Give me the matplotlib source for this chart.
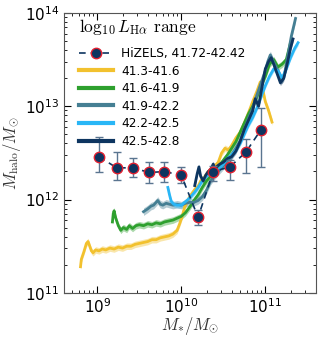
import numpy as np
import matplotlib
matplotlib.use("Agg")
import matplotlib.pyplot as plt

plt.rcParams["mathtext.fontset"] = "cm"

# ---------------- data (log10 values) ----------------
hizels_logm = [9.02, 9.23, 9.42, 9.62, 9.80, 10.00, 10.20, 10.38, 10.58, 10.77, 10.95]
hizels_logh = [12.46, 12.34, 12.34, 12.29, 12.30, 12.26, 11.81, 12.30, 12.35, 12.51, 12.75]
hizels_hi   = [12.67, 12.51, 12.45, 12.40, 12.40, 12.35, 11.89, 12.36, 12.42, 12.65, 12.98]
hizels_lo   = [12.30, 12.21, 12.24, 12.18, 12.19, 12.18, 11.73, 12.20, 12.21, 12.28, 12.35]

y1_x = [8.80, 8.81, 8.84, 8.87, 8.89, 8.91, 8.93, 8.95, 8.98, 9.02, 9.06, 9.10, 9.15, 9.20,
        9.25, 9.30, 9.35, 9.40, 9.45, 9.50, 9.55, 9.60, 9.65, 9.70, 9.75, 9.80, 9.85, 9.90,
        9.95, 9.98, 10.01, 10.04, 10.07, 10.10, 10.13, 10.17, 10.20, 10.23, 10.26, 10.29,
        10.32, 10.36, 10.40, 10.44, 10.48, 10.52, 10.56, 10.60, 10.65, 10.70, 10.75, 10.80,
        10.85, 10.90, 10.94, 10.97, 11.00, 11.04, 11.08]
y1_y = [11.28, 11.36, 11.44, 11.53, 11.55, 11.50, 11.45, 11.43, 11.46, 11.45, 11.47, 11.46,
        11.48, 11.47, 11.49, 11.48, 11.50, 11.50, 11.52, 11.53, 11.54, 11.55, 11.57, 11.57,
        11.59, 11.60, 11.61, 11.63, 11.67, 11.74, 11.82, 11.92, 11.98, 12.03, 12.07, 12.12,
        12.14, 12.20, 12.22, 12.26, 12.30, 12.31, 12.36, 12.40, 12.50, 12.55, 12.53, 12.58,
        12.66, 12.72, 12.82, 12.93, 13.05, 13.16, 13.26, 13.18, 13.05, 12.95, 12.83]

g_x = [9.18, 9.19, 9.20, 9.22, 9.25, 9.28, 9.31, 9.35, 9.38, 9.42, 9.46, 9.50, 9.55, 9.60,
       9.65, 9.70, 9.75, 9.80, 9.85, 9.90, 9.95, 10.00, 10.05, 10.10, 10.15, 10.20, 10.25,
       10.30, 10.35, 10.40, 10.45, 10.50, 10.55, 10.60, 10.65, 10.70, 10.75, 10.80, 10.85,
       10.90, 10.95, 11.00, 11.05, 11.10, 11.15, 11.20, 11.25, 11.30]
g_y = [11.76, 11.85, 11.88, 11.80, 11.72, 11.67, 11.70, 11.68, 11.72, 11.69, 11.72, 11.73,
       11.72, 11.74, 11.73, 11.75, 11.74, 11.76, 11.77, 11.78, 11.80, 11.82, 11.86, 11.92,
       11.99, 12.05, 12.13, 12.20, 12.25, 12.31, 12.36, 12.42, 12.48, 12.55, 12.62, 12.72,
       12.82, 12.92, 13.00, 13.10, 13.22, 13.32, 13.45, 13.50, 13.42, 13.45, 13.50, 13.68]

t_x = [9.55, 9.60, 9.64, 9.67, 9.70, 9.72, 9.75, 9.78, 9.82, 9.86, 9.90, 9.95, 10.00, 10.05,
       10.10, 10.15, 10.20, 10.25, 10.30, 10.35, 10.40, 10.45, 10.50, 10.55, 10.60, 10.65,
       10.70, 10.75, 10.80, 10.85, 10.90, 10.95, 11.00, 11.03, 11.06, 11.10, 11.15, 11.20,
       11.23, 11.27, 11.31, 11.36]
t_y = [11.87, 11.90, 11.93, 11.94, 11.97, 11.99, 11.95, 11.94, 11.96, 11.95, 11.94, 11.95,
       11.94, 11.96, 11.97, 11.97, 11.99, 12.03, 12.10, 12.20, 12.26, 12.31, 12.36, 12.42,
       12.48, 12.55, 12.63, 12.75, 12.87, 12.98, 13.12, 13.25, 13.38, 13.48, 13.55, 13.47,
       13.38, 13.28, 13.35, 13.55, 13.75, 13.94]

b_x = [9.84, 9.86, 9.88, 9.91, 9.95, 10.00, 10.04, 10.08, 10.12, 10.16, 10.20, 10.25, 10.30,
       10.35, 10.40, 10.45, 10.50, 10.55, 10.60, 10.65, 10.70, 10.75, 10.80, 10.85, 10.90,
       10.95, 11.00, 11.05, 11.10, 11.15, 11.20, 11.25, 11.30, 11.35, 11.39]
b_y = [12.13, 12.05, 11.98, 11.95, 11.94, 11.94, 11.97, 12.00, 12.04, 12.08, 12.13, 12.20,
       12.25, 12.28, 12.30, 12.33, 12.38, 12.44, 12.48, 12.53, 12.60, 12.70, 12.80, 12.88,
       12.98, 13.10, 13.22, 13.32, 13.40, 13.38, 13.30, 13.40, 13.52, 13.62, 13.68]

n_x = [10.16, 10.19, 10.21, 10.23, 10.26, 10.29, 10.32, 10.35, 10.38, 10.40, 10.43, 10.46,
       10.50, 10.55, 10.60, 10.65, 10.70, 10.75, 10.80, 10.85, 10.88, 10.92, 10.96, 11.00,
       11.04, 11.07, 11.10, 11.14, 11.18, 11.22, 11.26, 11.30, 11.33]
n_y = [12.15, 12.28, 12.35, 12.25, 12.20, 12.26, 12.30, 12.32, 12.38, 12.33, 12.36, 12.38,
       12.40, 12.44, 12.46, 12.52, 12.62, 12.75, 12.85, 12.95, 13.08, 13.00, 13.20, 13.40,
       13.48, 13.52, 13.45, 13.35, 13.25, 13.30, 13.45, 13.62, 13.72]

labels = ["41.3-41.6", "41.6-41.9", "41.9-42.2", "42.2-42.5", "42.5-42.8"]
colors = ["#f2c12e", "#2ea02e", "#457f93", "#29b6f6", "#0d3560"]
band_dex = [0.035, 0.035, 0.04, 0.03, 0.03]

series = [(y1_x, y1_y), (g_x, g_y), (t_x, t_y), (b_x, b_y), (n_x, n_y)]

# ---------------- figure ----------------
fig = plt.figure(figsize=(3.21, 3.39), dpi=100)
ax = fig.add_axes([0.199, 0.136, 0.785, 0.826])
ax.set_xscale("log")
ax.set_yscale("log")

for (lx, ly), c, lab, bw in zip(series, colors, labels, band_dex):
    lx = np.array(lx); ly = np.array(ly)
    x = 10 ** lx
    ax.fill_between(x, 10 ** (ly - bw), 10 ** (ly + bw), color=c, alpha=0.4, lw=0)
    ax.plot(x, 10 ** ly, color=c, lw=2, label=lab)

hx = 10 ** np.array(hizels_logm)
hy = 10 ** np.array(hizels_logh)
yerr = [hy - 10 ** np.array(hizels_lo), 10 ** np.array(hizels_hi) - hy]
ax.errorbar(hx, hy, yerr=yerr, fmt="none", ecolor="#5a7590", elinewidth=1.0,
            capsize=3, capthick=1.0, zorder=5)
ax.plot(hx, hy, ls=(0, (4, 3)), color="#0d3560", lw=1.2, marker="o", ms=7.5,
        mfc="#0d3560", mec="#e02030", mew=1.0, zorder=6,
        label="HiZELS, 41.72-42.42")

ax.set_xlim(4e8, 4e11)
ax.set_ylim(1e11, 1e14)

ax.tick_params(which="both", direction="in", top=True, right=True, labelsize=11)
ax.tick_params(which="major", length=5)
ax.tick_params(which="minor", length=2.5)
for s in ax.spines.values():
    s.set_color("#555555")

ax.set_xlabel(r"$M_{*}/M_{\odot}$", fontsize=12, color="#333333", labelpad=-1)
ax.set_ylabel(r"$M_{\rm halo}/M_{\odot}$", fontsize=12, color="#333333", labelpad=1)

h, l = ax.get_legend_handles_labels()
order = [5, 0, 1, 2, 3, 4]
leg = ax.legend([h[i] for i in order], [l[i] for i in order], loc="upper left",
                bbox_to_anchor=(0.045, 1.0),
                frameon=False, fontsize=8.7, title=r"$\log_{10}L_{\rm H\alpha}$ range",
                title_fontsize=12.5, handlelength=2.8, labelspacing=0.38,
                borderaxespad=0.15, borderpad=0.15, handletextpad=0.7)
leg._legend_box.align = "left"
leg._legend_box.sep = 7.5
leg.get_title().set_fontfamily(["cmr10", "DejaVu Serif"])
for lh in leg.get_lines()[1:]:
    lh.set_linewidth(3)

fig.savefig("out.png", dpi=100)
